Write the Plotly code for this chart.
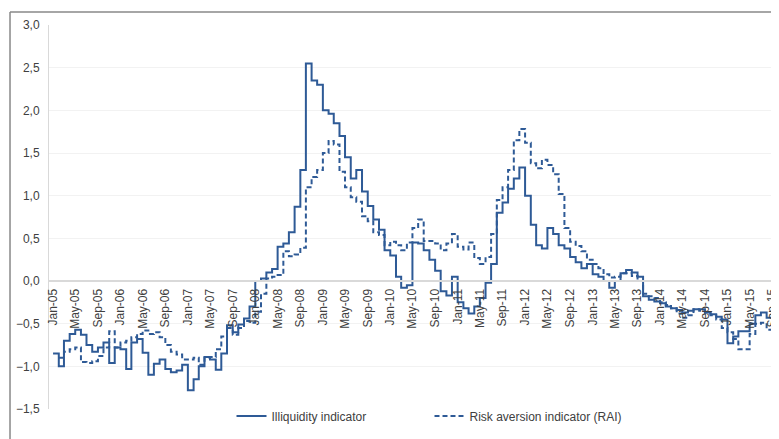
import pandas as pd
import plotly.graph_objects as go

# monthly readings, Jan-05 .. Oct-15
months = pd.date_range('2005-01-01', '2015-10-01', freq='MS')

illiquidity = [
    -0.85, -1.00, -0.70, -0.62, -0.57, -0.63, -0.75, -0.83, -0.78, -0.72, -0.96, -0.78,   # 2005
    -0.80, -1.03, -0.72, -0.68, -0.84, -1.10, -0.97, -0.92, -1.03, -1.07, -1.05, -0.98,   # 2006
    -1.28, -1.15, -1.00, -0.89, -0.92, -1.04, -0.85, -0.52, -0.60, -0.51, -0.44, -0.30,   # 2007
    0.00, 0.03, 0.10, 0.14, 0.40, 0.44, 0.57, 0.87, 1.30, 2.55, 2.35, 2.30,             # 2008
    2.00, 1.96, 1.85, 1.70, 1.45, 1.20, 1.30, 1.05, 0.88, 0.72, 0.60, 0.36,             # 2009
    0.30, 0.05, -0.08, -0.05, 0.45, 0.44, 0.36, 0.25, 0.12, -0.12, -0.17, 0.05,         # 2010
    -0.25, -0.32, -0.38, -0.30, -0.20, -0.02, 0.20, 0.80, 0.92, 1.08, 1.20, 1.33,       # 2011
    1.00, 0.66, 0.42, 0.38, 0.62, 0.55, 0.42, 0.38, 0.28, 0.22, 0.15, 0.20,             # 2012
    0.08, 0.05, 0.00, -0.08, 0.00, 0.09, 0.13, 0.10, 0.05, -0.18, -0.22, -0.24,         # 2013
    -0.26, -0.30, -0.32, -0.34, -0.37, -0.35, -0.33, -0.33, -0.37, -0.39, -0.42, -0.45, # 2014
    -0.73, -0.65, -0.59, -0.59, -0.50, -0.40, -0.37, -0.43, -0.47, -0.50,               # 2015
]

rai = [
    None, -0.90, -0.83, -0.80, -0.78, -0.95, -0.96, -0.94, -0.88, -0.78, -0.59, -0.78,  # 2005
    -0.72, -0.70, -0.66, -0.62, -0.58, -0.62, -0.60, -0.66, -0.75, -0.83, -0.86, -0.92, # 2006
    -0.92, -0.90, -0.98, -0.90, -0.89, -0.80, -0.65, -0.55, -0.63, -0.55, -0.47, -0.49, # 2007
    -0.36, -0.15, 0.03, 0.05, 0.07, 0.35, 0.29, 0.31, 0.39, 1.10, 1.22, 1.30,           # 2008
    1.50, 1.64, 1.60, 1.28, 1.10, 0.98, 0.93, 0.76, 0.70, 0.57, 0.54, 0.42,             # 2009
    0.46, 0.42, 0.36, 0.45, 0.62, 0.72, 0.47, 0.47, 0.44, 0.36, 0.44, 0.55,             # 2010
    0.40, 0.37, 0.45, 0.27, 0.20, 0.28, 0.55, 0.95, 1.10, 1.30, 1.65, 1.78,             # 2011
    1.62, 1.38, 1.32, 1.42, 1.36, 1.25, 1.02, 0.62, 0.46, 0.41, 0.35, 0.25,             # 2012
    0.20, 0.15, 0.08, 0.04, 0.05, 0.09, 0.09, 0.06, 0.00, -0.15, -0.18, -0.20,          # 2013
    -0.25, -0.28, -0.32, -0.38, -0.43, -0.40, -0.33, -0.35, -0.37, -0.40, -0.45, -0.55, # 2014
    -0.60, -0.68, -0.80, -0.80, -0.62, -0.50, -0.49, -0.57, -0.59, -0.61,               # 2015
]

col = '#2E5A96'
txt = '#404040'

fig = go.Figure()
fig.add_trace(go.Scatter(x=months, y=illiquidity, name='Illiquidity indicator',
                         mode='lines', line=dict(color=col, width=2, shape='hv')))
fig.add_trace(go.Scatter(x=months, y=rai, name='Risk aversion indicator (RAI)',
                         mode='lines', line=dict(color=col, width=2, shape='hv', dash='5px,3px')))

# outer frame of the original chart box (left and top edges visible)
fig.add_shape(type='line', xref='paper', yref='paper', x0=-0.0534, x1=-0.0534, y0=1.034, y1=-0.2,
              line=dict(color='#888888', width=1.5))
fig.add_shape(type='line', xref='paper', yref='paper', x0=-0.0534, x1=1.05, y0=1.034, y1=1.034,
              line=dict(color='#888888', width=1.5))

# page body adds 8px offset, so figure is 8px smaller / shifted
fig.update_layout(
    width=771, height=431,
    margin=dict(l=41, r=0, t=17, b=30),
    plot_bgcolor='white', paper_bgcolor='white',
    font=dict(family='Liberation Sans, Arial', color=txt, size=12),
    separators=',.',
    showlegend=True,
    legend=dict(orientation='h', x=0.25, y=-0.018, xanchor='left', yanchor='middle',
                font=dict(size=12, color=txt), entrywidth=153, bgcolor='rgba(0,0,0,0)'),
    xaxis=dict(
        type='date', range=['2004-12-10', '2015-10-07'],
        tick0='2005-01-01', dtick='M4', tickformat='%b-%y', tickangle=-90,
        anchor='free', position=1.5 / 4.5,
        showline=True, linecolor='#d9d9d9', linewidth=2,
        showgrid=False, zeroline=False, ticks='outside', ticklen=2, tickcolor='rgba(0,0,0,0)',
        tickfont=dict(size=12, color=txt), automargin=False, ticklabeloverflow='allow',
    ),
    yaxis=dict(
        range=[-1.5, 3.0], dtick=0.5, tickformat='.1f',
        showline=True, linecolor='#d9d9d9', linewidth=1,
        showgrid=True, gridcolor='#f2f2f2', gridwidth=1,
        zeroline=False, ticks='outside', ticklen=6, tickcolor='rgba(0,0,0,0)',
        tickfont=dict(size=12, color=txt), automargin=False,
    ),
)

fig.write_html('out.html')
